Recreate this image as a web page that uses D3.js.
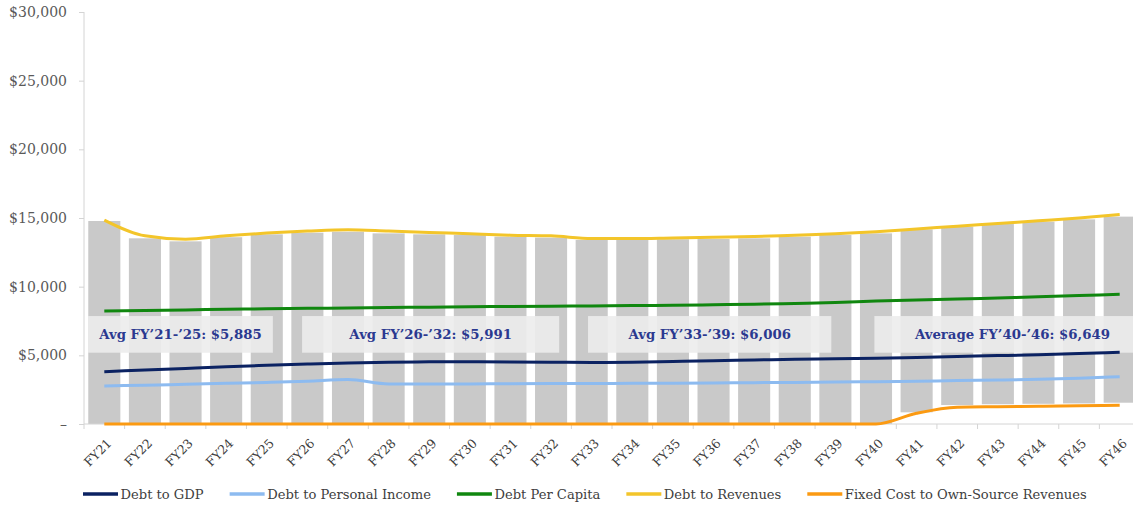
<!DOCTYPE html>
<html lang="en">
<head>
    <meta charset="UTF-8">
    <title>Debt ratios FY21-FY46</title>
    <script src="https://d3js.org/d3.v7.min.js"></script>
    <style>
        body { margin: 0; background: #fff; }
        svg { display: block; font-family: "DejaVu Serif", serif; }
        svg text { font-family: "DejaVu Serif", serif; }
        .axis path, .axis line { stroke: #d4d4d4; }
        .y-axis text { fill: #595959; font-size: 14px; }
        .x-axis text { fill: #404040; font-size: 12.5px; }
        .legend text { fill: #404040; font-size: 13.1px; }
        .note text { fill: #2b3990; font-size: 13.3px; font-weight: bold; }
    </style>
</head>
<body>
<svg width="1133" height="508"></svg>
<script>
    // --- data ---
    var years = ["FY21", "FY22", "FY23", "FY24", "FY25", "FY26", "FY27", "FY28", "FY29", "FY30",
        "FY31", "FY32", "FY33", "FY34", "FY35", "FY36", "FY37", "FY38", "FY39", "FY40",
        "FY41", "FY42", "FY43", "FY44", "FY45", "FY46"];

    // grey bars (top and bottom of each bar)
    var barTop = [14780, 13520, 13300, 13600, 13810, 13930, 14000, 13880, 13810, 13760,
        13640, 13570, 13400, 13400, 13450, 13470, 13520, 13640, 13760, 13880,
        14170, 14370, 14560, 14730, 14900, 15100];
    var barBase = [0, 0, 0, 0, 0, 0, 0, 0, 0, 0, 0, 0, 0, 0, 0, 0, 0, 0, 0, 0,
        850, 1380, 1440, 1470, 1500, 1550];

    var debtToGDP = [3810, 3930, 4050, 4170, 4270, 4370, 4450, 4500, 4530, 4540,
        4520, 4500, 4480, 4500, 4550, 4610, 4660, 4710, 4750, 4790,
        4850, 4920, 4980, 5050, 5130, 5220];
    var debtToPersonalIncome = [2770, 2830, 2890, 2960, 3030, 3120, 3240, 2920, 2910, 2920,
        2930, 2940, 2950, 2960, 2970, 2990, 3010, 3030, 3050, 3080,
        3120, 3160, 3200, 3260, 3340, 3440];
    var debtPerCapita = [8230, 8270, 8310, 8350, 8390, 8420, 8450, 8480, 8510, 8540,
        8560, 8580, 8600, 8620, 8650, 8680, 8720, 8780, 8850, 8950,
        9030, 9100, 9180, 9260, 9350, 9440];
    var debtToRevenues = [14850, 13700, 13450, 13700, 13900, 14050, 14150, 14050, 13950, 13850,
        13750, 13700, 13500, 13500, 13550, 13600, 13650, 13750, 13850, 14000,
        14200, 14400, 14600, 14800, 15000, 15250];
    var fixedCostToOwnSource = [0, 0, 0, 0, 0, 0, 0, 0, 0, 0, 0, 0, 0, 0, 0, 0, 0, 0, 0, 0,
        780, 1220, 1260, 1290, 1320, 1360];

    var yTicks = [0, 5000, 10000, 15000, 20000, 25000, 30000];

    var series = [
        { name: "Debt to GDP", values: debtToGDP, color: "#0b2262" },
        { name: "Debt to Personal Income", values: debtToPersonalIncome, color: "#8dbbf0" },
        { name: "Debt Per Capita", values: debtPerCapita, color: "#10870f" },
        { name: "Debt to Revenues", values: debtToRevenues, color: "#f3c52a" },
        { name: "Fixed Cost to Own-Source Revenues", values: fixedCostToOwnSource, color: "#fb9a12" }
    ];

    // average boxes: start / end given in category index units
    var notes = [
        { text: "Avg FY\u201921-\u201925: $5,885", from: -0.4, to: 4.15 },
        { text: "Avg FY\u201926-\u201932: $5,991", from: 4.87, to: 11.2 },
        { text: "Avg FY\u201933-\u201939: $6,006", from: 11.91, to: 17.9 },
        { text: "Average FY\u201940-\u201946: $6,649", from: 18.96, to: 25.76 }
    ];
    var noteBand = [5190, 7860];

    // --- layout ---
    var svg = d3.select("svg"),
        margin = { top: 12, left: 84, bottom: 84 },
        plotRight = 1140,
        plotBottom = +svg.attr("height") - margin.bottom;

    var x = d3.scaleBand()
        .domain(years)
        .range([margin.left, plotRight])
        .paddingInner(0.21)
        .paddingOuter(0.105);

    var y = d3.scaleLinear()
        .domain([0, 30000])
        .range([plotBottom, margin.top]);

    var step = x.step();
    var cx = function (i) { return x(years[i]) + x.bandwidth() / 2; };
    var ix = function (k) { return cx(0) + k * step; };

    // bars
    svg.append("g")
        .selectAll("rect")
        .data(years)
        .enter().append("rect")
        .attr("x", function (d) { return x(d); })
        .attr("width", x.bandwidth())
        .attr("y", function (d, i) { return y(barTop[i]); })
        .attr("height", function (d, i) { return y(barBase[i]) - y(barTop[i]); })
        .attr("fill", "#c9c9c9");

    // y axis
    var yAxis = svg.append("g")
        .attr("class", "axis y-axis")
        .attr("transform", "translate(" + margin.left + ",0)")
        .call(d3.axisLeft(y).tickValues(yTicks).tickSize(5).tickPadding(12)
            .tickFormat(function (d) { return d === 0 ? "\u2013" : "$" + d3.format(",")(d); }));
    yAxis.attr("font-family", null);
    yAxis.select(".domain").attr("d", "M0," + y(30000) + "V" + plotBottom);

    // x axis: line + ticks at category boundaries
    var xAxis = svg.append("g").attr("class", "axis x-axis");
    xAxis.append("line")
        .attr("x1", margin.left).attr("x2", plotRight)
        .attr("y1", plotBottom).attr("y2", plotBottom);
    xAxis.selectAll(".tk")
        .data(d3.range(years.length + 1))
        .enter().append("line")
        .attr("class", "tk")
        .attr("x1", function (k) { return margin.left + k * step; })
        .attr("x2", function (k) { return margin.left + k * step; })
        .attr("y1", plotBottom).attr("y2", plotBottom + 5);
    xAxis.selectAll("text")
        .data(years)
        .enter().append("text")
        .attr("text-anchor", "end")
        .attr("transform", function (d, i) {
            return "translate(" + (cx(i) + 5) + "," + (plotBottom + 17) + ") rotate(-45)";
        })
        .attr("dy", "0.35em")
        .text(function (d) { return d; });

    // average boxes
    var note = svg.append("g").attr("class", "note");
    note.selectAll("rect")
        .data(notes)
        .enter().append("rect")
        .attr("x", function (d) { return ix(d.from); })
        .attr("width", function (d) { return ix(d.to) - ix(d.from); })
        .attr("y", y(noteBand[1]))
        .attr("height", y(noteBand[0]) - y(noteBand[1]))
        .attr("fill", "#ececec")
        .attr("fill-opacity", 0.9);

    // lines
    var line = d3.line()
        .x(function (d, i) { return cx(i); })
        .y(function (d) { return y(d); })
        .curve(d3.curveMonotoneX);

    svg.append("g")
        .selectAll("path")
        .data(series)
        .enter().append("path")
        .attr("d", function (d) { return line(d.values); })
        .attr("fill", "none")
        .attr("stroke", function (d) { return d.color; })
        .attr("stroke-width", 3)
        .attr("stroke-linejoin", "round");

    note.selectAll("text")
        .data(notes)
        .enter().append("text")
        .attr("x", function (d) { return (ix(d.from) + ix(d.to)) / 2; })
        .attr("y", (y(noteBand[0]) + y(noteBand[1])) / 2)
        .attr("dy", "0.35em")
        .attr("text-anchor", "middle")
        .text(function (d) { return d.text; });

    // legend
    var legend = svg.append("g").attr("class", "legend"),
        lx = 83, ly = 494;
    series.forEach(function (s) {
        legend.append("line")
            .attr("x1", lx).attr("x2", lx + 35)
            .attr("y1", ly).attr("y2", ly)
            .attr("stroke", s.color)
            .attr("stroke-width", 3.5);
        var t = legend.append("text")
            .attr("x", lx + 37.5)
            .attr("y", ly)
            .attr("dy", "0.35em")
            .text(s.name);
        lx += 37.5 + t.node().getComputedTextLength() + 26;
    });
</script>
</body>
</html>
